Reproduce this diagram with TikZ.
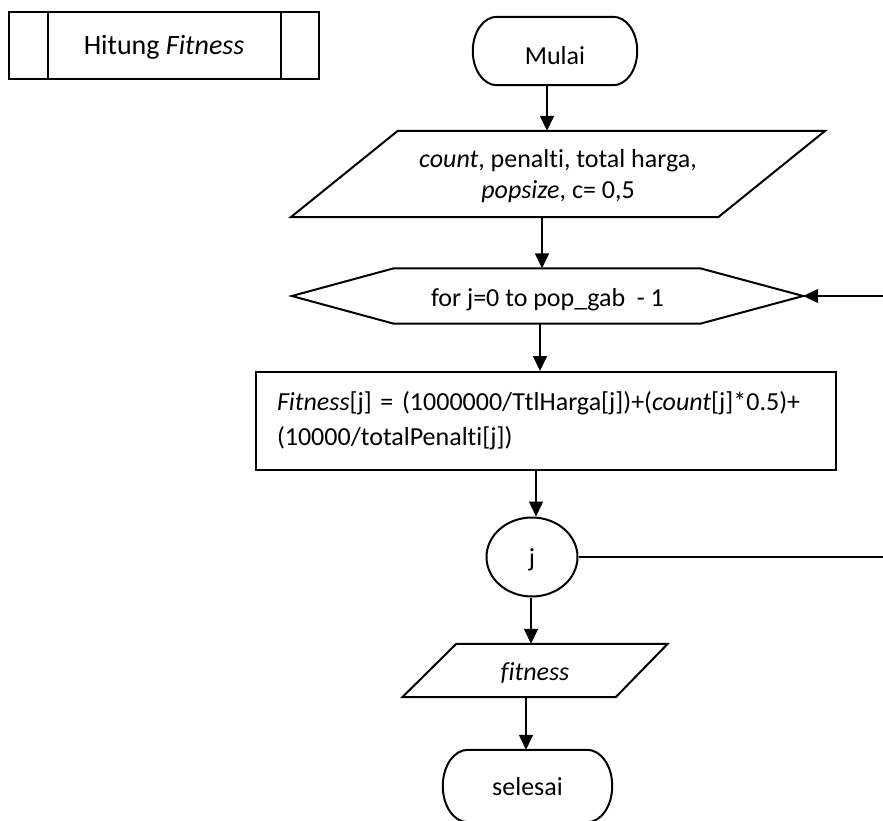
\documentclass[tikz,border=0pt]{standalone}
\usepackage{fontspec}
\setmainfont{Carlito}[Ligatures=NoCommon, RawFeature={-liga;-clig;-dlig}]
\usetikzlibrary{arrows.meta,shapes.geometric,calc}
\tikzset{
  outline/.style={draw, line width=2pt},
  flow/.style={line width=1.5pt, -{Triangle[width=14pt,length=15pt]}},
  plain/.style={line width=1.5pt},
  txt/.style={font=\fontsize{26}{31}\selectfont},
  frame/.style={rectangle, inner sep=0pt, txt},
}
% terminator outline with elliptical ends, drawn round a named node
\newcommand\termoutline[3]{%
  \draw[outline] ($(#1.north west)+(#2,0)$) -- ($(#1.north east)+(-#2,0)$)
    .. controls ($(#1.north east)+(-#2*0.448,0)$) and ($(#1.north east)+(0,#3*0.448)$)
    .. ($(#1.north east)+(0,#3)$) -- ($(#1.south east)+(0,-#3)$)
    .. controls ($(#1.south east)+(0,-#3*0.448)$) and ($(#1.south east)+(-#2*0.448,0)$)
    .. ($(#1.south east)+(-#2,0)$) -- ($(#1.south west)+(#2,0)$)
    .. controls ($(#1.south west)+(#2*0.448,0)$) and ($(#1.south west)+(0,-#3*0.448)$)
    .. ($(#1.south west)+(0,-#3)$) -- ($(#1.north west)+(0,#3)$)
    .. controls ($(#1.north west)+(0,#3*0.448)$) and ($(#1.north west)+(#2*0.448,0)$)
    .. cycle;}
\begin{document}
\begin{tikzpicture}[x=1pt,y=-1pt]
\useasboundingbox (0,0) rectangle (883,821);

% predefined process box
\node[frame, outline, minimum width=310pt, minimum height=67pt,
      font=\fontsize{28}{33}\selectfont, text height=18pt, text depth=0pt]
  (sub) at (164,45.5) {Hitung \textit{Fitness}};
\draw[outline] ([xshift=40pt]sub.north west) -- ([xshift=40pt]sub.south west);
\draw[outline] ([xshift=-39pt]sub.north east) -- ([xshift=-39pt]sub.south east);

% start terminal
\node[frame, minimum width=164pt, minimum height=68pt, text height=27pt, text depth=0pt]
  (start) at (555,51) {Mulai};
\termoutline{start}{24}{34}

% input parallelogram
\node[frame, minimum width=534pt, minimum height=86pt, align=center,
      text height=50pt, text depth=0pt] (in1) at (558,174)
  {\textit{count}, penalti, total harga,\\ \textit{popsize}, c= 0,5};
\draw[outline] ($(in1.north west)+(107,0)$) -- (in1.north east)
  -- ($(in1.south east)+(-107,0)$) -- (in1.south west) -- cycle;

% loop hexagon
\node[frame, minimum width=511pt, minimum height=55pt, text height=21pt, text depth=0pt]
  (forj) at (547.5,296) {for j=0 to pop\_gab~~- 1};
\draw[outline] (forj.west) -- ($(forj.north west)+(102,0)$)
  -- ($(forj.north east)+(-103,0)$) -- (forj.east)
  -- ($(forj.south east)+(-103,0)$) -- ($(forj.south west)+(102,0)$) -- cycle;

% process box
\node[frame, outline, minimum width=580pt, minimum height=98pt,
      text width=538pt, inner xsep=21pt, align=left,
      font=\fontsize{26}{35}\selectfont] (proc) at (546,421)
  {\mbox{\textit{Fitness}[j] = (1000000/TtlHarga[j])+(\textit{count}[j]*0.5)+}\\
   \mbox{(10000/totalPenalti[j])}};

% connector
\node[ellipse, outline, txt, minimum width=91pt, minimum height=79pt, inner sep=0pt,
      text height=18pt, text depth=0pt] (conn) at (532,557) {j};

% output parallelogram
\node[frame, minimum width=265pt, minimum height=53pt, text height=20pt, text depth=0pt]
  (out) at (535,670.5) {\textit{fitness}};
\draw[outline] ($(out.north west)+(54,0)$) -- (out.north east)
  -- ($(out.south east)+(-52,0)$) -- (out.south west) -- cycle;

% end terminal
\node[frame, minimum width=169pt, minimum height=72pt, text height=18pt, text depth=0pt]
  (stop) at (527.5,786) {selesai};
\termoutline{stop}{25}{36}

% flow lines
\draw[flow] ([xshift=-8pt]start.south) -- ([xshift=-11pt]in1.north);
\draw[flow] ([xshift=-16pt]in1.south) -- ([xshift=-5.5pt]forj.north);
\draw[flow] ([xshift=-7.5pt]forj.south) -- ([xshift=-6pt]proc.north);
\draw[flow] ([xshift=-10pt]proc.south) -- ([xshift=4pt]conn.north);
\draw[flow] ([xshift=-1pt]conn.south) -- ([xshift=-4pt]out.north);
\draw[flow] ([xshift=-9pt]out.south) -- ([xshift=-1.5pt]stop.north);

% loop return
\coordinate (back) at (883,296);
\coordinate (exit) at (883,557);
\draw[plain] (conn.east) -- (exit);
\draw[flow] (back) -- (forj.east);
\end{tikzpicture}
\end{document}
